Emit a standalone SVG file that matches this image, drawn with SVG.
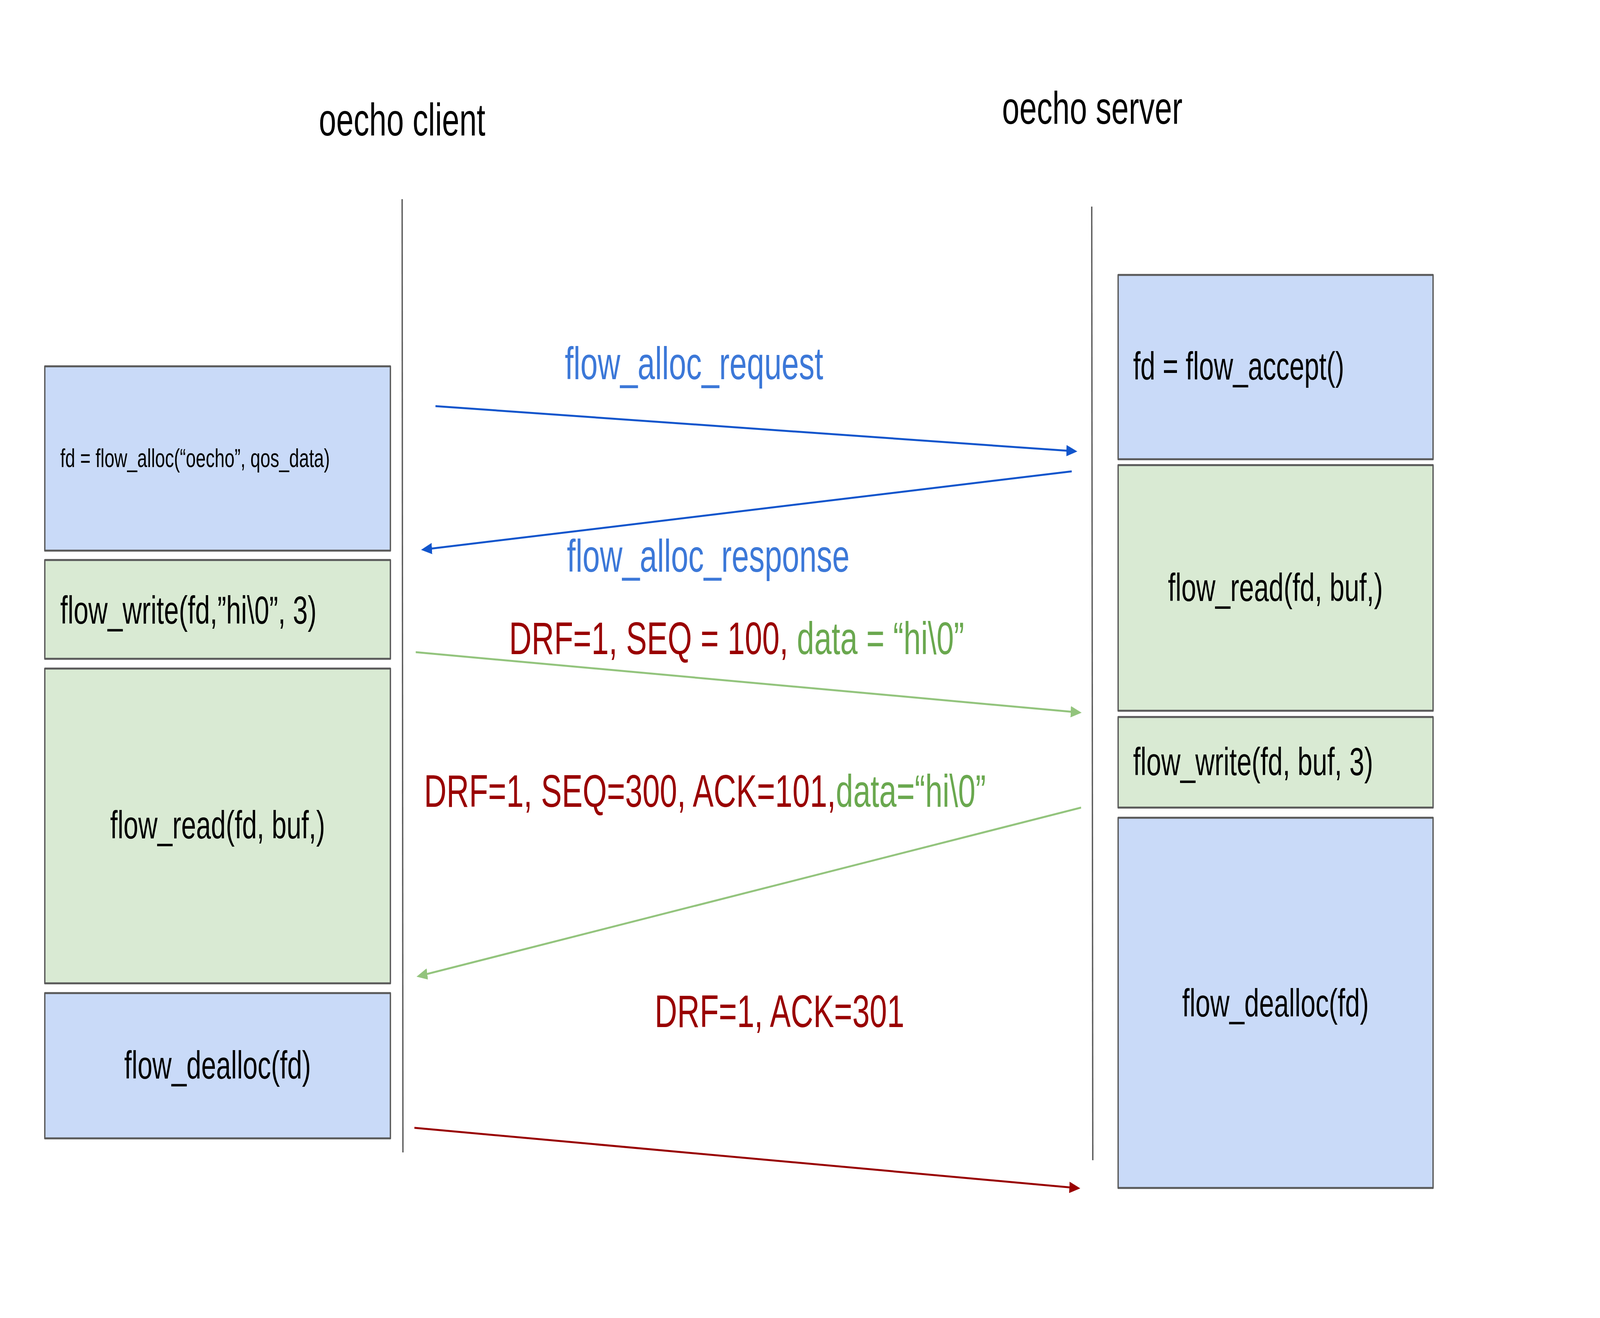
<svg xmlns="http://www.w3.org/2000/svg" width="6000" height="3375" viewBox="0 0 6000 3375" preserveAspectRatio="none" style="width:100%;height:100%">
<style>
text{font-family:"Liberation Sans",Arial,sans-serif;}
.title{font-size:117px;fill:#000;text-anchor:middle;}
.box{stroke:#595959;stroke-width:5;stroke-linejoin:round;}
.blue{fill:#c9daf8;}
.green{fill:#d9ead3;}
.bt{font-size:100px;fill:#000;}
.mid{text-anchor:middle;}
.life{stroke:#595959;stroke-width:5;fill:none;}
.lbl{font-size:117px;}
.cb{fill:#3c78d8;}
.cr{fill:#990000;}
.cg{fill:#6aa84f;}
.ab{stroke:#1155cc;stroke-width:5;fill:none;marker-end:url(#hb);}
.ag{stroke:#93c47d;stroke-width:5;fill:none;marker-end:url(#hg);}
.ar{stroke:#990000;stroke-width:5;fill:none;marker-end:url(#hr);}
</style>
<defs>
<marker id="hb" markerUnits="userSpaceOnUse" markerWidth="41" markerHeight="29" viewBox="0 0 41 29" refX="5" refY="14.5" orient="auto"><path d="M0,0 L41,14.5 L0,29 Z" fill="#1155cc"/></marker>
<marker id="hg" markerUnits="userSpaceOnUse" markerWidth="41" markerHeight="29" viewBox="0 0 41 29" refX="5" refY="14.5" orient="auto"><path d="M0,0 L41,14.5 L0,29 Z" fill="#93c47d"/></marker>
<marker id="hr" markerUnits="userSpaceOnUse" markerWidth="41" markerHeight="29" viewBox="0 0 41 29" refX="5" refY="14.5" orient="auto"><path d="M0,0 L41,14.5 L0,29 Z" fill="#990000"/></marker>
</defs>
<rect width="6000" height="3375" fill="#ffffff"/>

<g id="client">
<text class="title" x="1508" y="347">oecho client</text>
<line class="life" x1="1508" y1="510" x2="1511" y2="2951"/>
</g>
<g id="server">
<text class="title" x="4096" y="317">oecho server</text>
<line class="life" x1="4094" y1="529" x2="4098" y2="2971"/>
</g>

<g id="c_alloc">
<rect class="box blue" x="168" y="938" width="1296" height="472"/>
<text class="bt" x="226" y="1196" style="font-size:67px">fd = flow_alloc(“oecho”, qos_data)</text>
</g>
<g id="c_write">
<rect class="box green" x="168" y="1434" width="1296" height="253"/>
<text class="bt" x="226" y="1597">flow_write(fd,”hi\0”, 3)</text>
</g>
<g id="c_read">
<rect class="box green" x="168" y="1712" width="1296" height="806"/>
<text class="bt mid" x="816" y="2147">flow_read(fd, buf,)</text>
</g>
<g id="c_dealloc">
<rect class="box blue" x="168" y="2543" width="1296" height="372"/>
<text class="bt mid" x="816" y="2762">flow_dealloc(fd)</text>
</g>

<g id="s_accept">
<rect class="box blue" x="4193" y="704" width="1181" height="472"/>
<text class="bt" x="4249" y="972">fd = flow_accept()</text>
</g>
<g id="s_read">
<rect class="box green" x="4193" y="1191" width="1181" height="629"/>
<text class="bt mid" x="4783" y="1539">flow_read(fd, buf,)</text>
</g>
<g id="s_write">
<rect class="box green" x="4193" y="1836" width="1181" height="232"/>
<text class="bt" x="4249" y="1985">flow_write(fd, buf, 3)</text>
</g>
<g id="s_dealloc">
<rect class="box blue" x="4193" y="2094" width="1181" height="948"/>
<text class="bt mid" x="4783" y="2603">flow_dealloc(fd)</text>
</g>

<g id="connectors">
<line class="ab" x1="1633" y1="1040" x2="4004" y2="1154.3"/>
<line class="ab" x1="4019" y1="1207" x2="1614.9" y2="1405"/>
<line class="ag" x1="1559" y1="1670" x2="4020.1" y2="1822.8"/>
<line class="ag" x1="4054" y1="2068" x2="1597.5" y2="2494.8"/>
<line class="ar" x1="1554" y1="2888" x2="4015.1" y2="3040.8"/>
<text class="lbl cb" x="2118" y="971">flow_alloc_request</text>
<text class="lbl cb" x="2126" y="1464">flow_alloc_response</text>
<text class="lbl" x="1909" y="1675"><tspan class="cr">DRF=1, SEQ = 100, </tspan><tspan class="cg">data = “hi\0”</tspan></text>
<text class="lbl" x="1590" y="2066"><tspan class="cr">DRF=1, SEQ=300, ACK=101,</tspan><tspan class="cg">data=“hi\0”</tspan></text>
<text class="lbl cr" x="2455" y="2630">DRF=1, ACK=301</text>
</g>
</svg>
